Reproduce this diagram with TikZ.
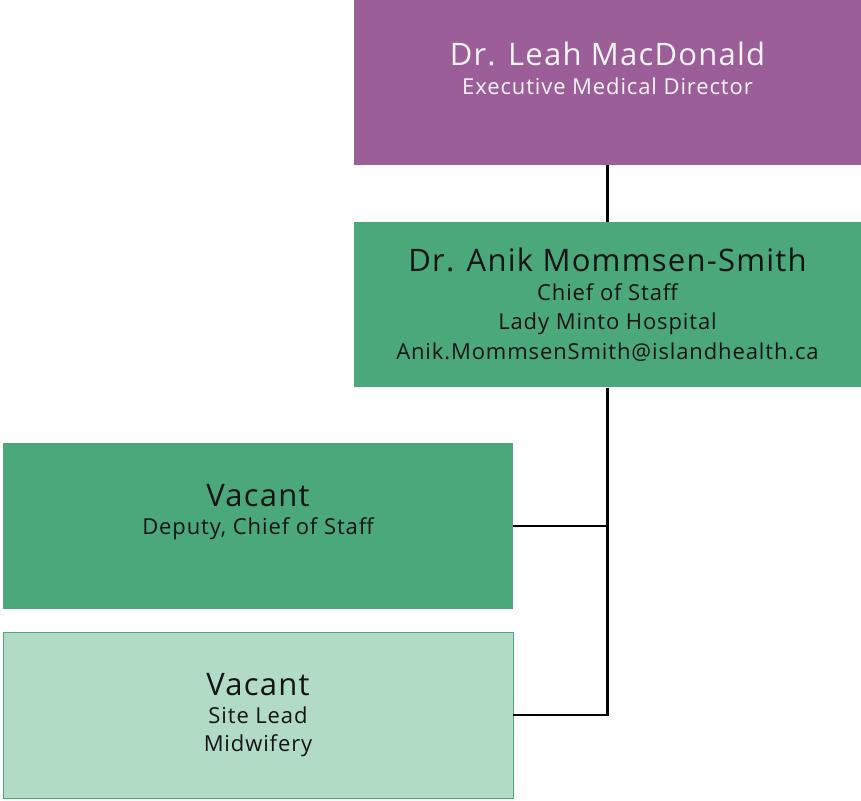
\documentclass[tikz,border=0pt]{standalone}
\usepackage{fontspec}
\setmainfont{Open Sans}[LetterSpace=4]
\usetikzlibrary{positioning}
\definecolor{plum}{HTML}{9B5E99}
\definecolor{staffgreen}{HTML}{4BA87B}
\definecolor{mint}{HTML}{B1DBC5}
\definecolor{ink}{HTML}{141414}
\newcommand{\bigname}{\fontsize{31}{34}\selectfont}

\begin{document}
\begin{tikzpicture}[x=1pt,y=1pt,node distance=57pt,
	box/.style={rectangle,inner sep=0pt,minimum width=507pt,minimum height=165pt},
	lowbox/.style={rectangle,inner sep=0pt,minimum width=510pt,minimum height=166pt},
	role/.style={align=center,font=\fontsize{22}{29.5}\selectfont},
	link/.style={draw=black,line width=2.5pt}]
	\useasboundingbox (0,0) rectangle (861,-800);
	\node[box,fill=plum] (emd) at (607.5,-82.5) {};
	\node[box,fill=staffgreen,below=57pt of emd] (cos) {};
	\node[lowbox,fill=staffgreen] (dep) at (258,-526) {};
	\node[lowbox,fill=mint,draw=staffgreen,line width=0.8pt] (mid) at (258,-715) {};
	% texts
	\node[role,text=white!94!plum,yshift=14pt] at (emd) {{\bigname Dr. Leah MacDonald}\\[-1pt]Executive Medical Director};
	\node[role,text=ink] at (cos) {{\bigname Dr. Anik Mommsen-Smith}\\[-1pt]Chief of Staff\\Lady Minto Hospital\\Anik.MommsenSmith@islandhealth.ca};
	\node[role,text=ink,yshift=14pt] at (dep) {{\bigname Vacant}\\[-1pt]Deputy, Chief of Staff};
	\node[role,text=ink] at (mid) {{\bigname Vacant}\\[-1pt]Site Lead\\[-2pt]Midwifery};
	% connectors
	\draw[link] (emd.south) -- (cos.north);
	\draw[link] (cos.south) |- (dep.east);
	\draw[link] (cos.south) |- (mid.east);
\end{tikzpicture}
\end{document}
